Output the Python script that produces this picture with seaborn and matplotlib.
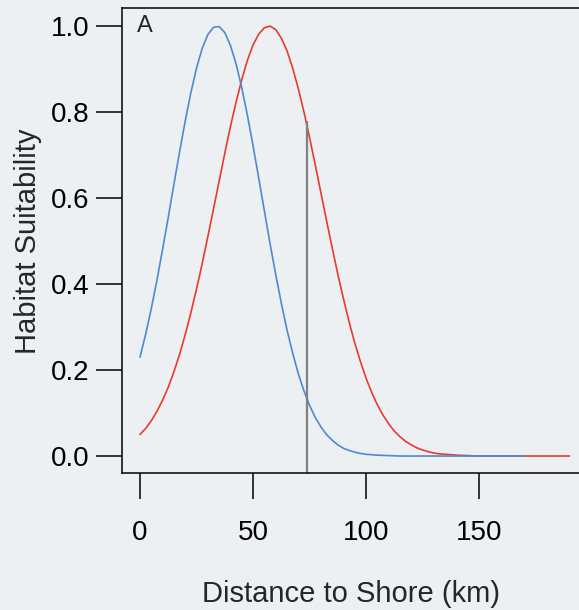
import numpy as np
import pandas as pd
import matplotlib
matplotlib.use("Agg")
import matplotlib.pyplot as plt
import seaborn as sns

# Habitat suitability curves
dist_blue = [0, 2.5, 5, 7.5, 10, 12.5, 15, 17.5, 20, 22.5, 25, 27.5, 30, 32.5,
             35, 37.5, 40, 42.5, 45, 47.5, 50, 52.5, 55, 57.5, 60, 62.5, 65, 67.5,
             70, 72.5, 75, 77.5, 80, 82.5, 85, 87.5, 90, 92.5, 95, 97.5, 100,
             105, 110, 115, 120, 130, 140, 150, 160, 170]
suit_blue = [0.230, 0.283, 0.343, 0.409, 0.481, 0.555, 0.632, 0.707, 0.779, 0.845,
             0.902, 0.948, 0.980, 0.997, 0.999, 0.985, 0.955, 0.912, 0.857, 0.793,
             0.722, 0.647, 0.571, 0.495, 0.423, 0.356, 0.294, 0.240, 0.192, 0.152,
             0.118, 0.090, 0.068, 0.050, 0.037, 0.026, 0.018, 0.013, 0.009, 0.006,
             0.004, 0.002, 0.001, 0.0, 0.0, 0.0, 0.0, 0.0, 0.0, 0.0]

dist_red = [0, 2.5, 5, 7.5, 10, 12.5, 15, 17.5, 20, 22.5, 25, 27.5, 30, 32.5,
            35, 37.5, 40, 42.5, 45, 47.5, 50, 52.5, 55, 57.5, 60, 62.5, 65, 67.5,
            70, 72.5, 75, 77.5, 80, 82.5, 85, 87.5, 90, 92.5, 95, 97.5, 100,
            102.5, 105, 107.5, 110, 112.5, 115, 117.5, 120, 122.5, 125, 127.5,
            130, 132.5, 135, 140, 145, 150, 160, 170, 180, 190]
suit_red = [0.050, 0.064, 0.082, 0.104, 0.130, 0.160, 0.196, 0.236, 0.282, 0.333,
            0.388, 0.447, 0.510, 0.574, 0.639, 0.704, 0.766, 0.823, 0.875, 0.920,
            0.956, 0.981, 0.996, 1.000, 0.992, 0.972, 0.943, 0.903, 0.855, 0.801,
            0.741, 0.678, 0.613, 0.548, 0.485, 0.423, 0.366, 0.312, 0.263, 0.220,
            0.181, 0.148, 0.119, 0.095, 0.075, 0.058, 0.045, 0.034, 0.026, 0.019,
            0.014, 0.010, 0.007, 0.005, 0.004, 0.002, 0.001, 0.0, 0.0, 0.0,
            0.0, 0.0]

cutoff_km = 74
cutoff_suit = 0.78

x_ticks = [0, 50, 100, 150]
y_ticks = [0.0, 0.2, 0.4, 0.6, 0.8, 1.0]
y_tick_labels = ["0.0", "0.2", "0.4", "0.6", "0.8", "1.0"]

BG = "#edf0f2"
BLUE = "#5088d2"
RED = "#e83b2b"

sns.set_style("ticks")
plt.rcParams["font.family"] = ["Liberation Sans", "DejaVu Sans"]

W, H = 579, 610
fig = plt.figure(figsize=(W / 100, H / 100), dpi=100, facecolor=BG)
ax = fig.add_axes([122 / W, (H - 473) / H, 464 / W, 465 / H])
ax.set_facecolor(BG)

df_red = pd.DataFrame({"dist": dist_red, "suit": suit_red})
df_blue = pd.DataFrame({"dist": dist_blue, "suit": suit_blue})

sns.lineplot(data=df_red, x="dist", y="suit", color=RED, linewidth=1.2, ax=ax)
sns.lineplot(data=df_blue, x="dist", y="suit", color=BLUE, linewidth=1.2, ax=ax)

ax.set_xlim(-7.96, 197.3)
ax.set_ylim(-0.0395, 1.042)
ax.vlines(cutoff_km, ax.get_ylim()[0], cutoff_suit, color="#808080", linewidth=1.6)

ax.set_xticks(x_ticks)
ax.set_yticks(y_ticks)
ax.set_yticklabels(y_tick_labels)
ax.tick_params(axis="both", length=18.7, width=1.1, labelsize=20, colors="black")
ax.tick_params(axis="x", pad=15)
ax.tick_params(axis="y", pad=5)
for s in ax.spines.values():
    s.set_visible(True)
    s.set_linewidth(1.1)
    s.set_color("black")

ax.set_xlabel("")
ax.set_ylabel("")
fig.text(351 / W, 1 - 594 / H, "Distance to Shore (km)", fontsize=21,
         ha="center", va="center")
fig.text(28 / W, 1 - 241 / H, "Habitat Suitability", fontsize=21,
         rotation=90, ha="center", va="center")
ax.text(-1.5, 1.0, "A", fontsize=17, ha="left", va="center")

fig.savefig("out.png", dpi=100, facecolor=BG)
